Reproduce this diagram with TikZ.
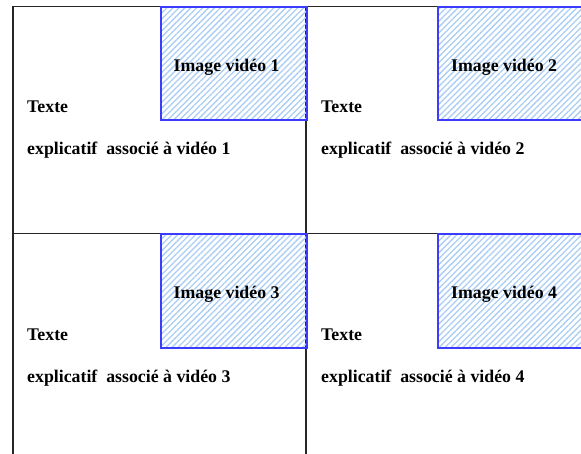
\documentclass[tikz,border=0pt]{standalone}
\usepackage{fontspec}
\setmainfont{Liberation Serif}
\usetikzlibrary{patterns.meta}
\definecolor{hatchblue}{RGB}{170,205,245}
\definecolor{boxblue}{RGB}{60,60,255}
\tikzset{
  frame/.style={line width=1.2pt, draw=black!85},
  vidbox/.style={draw=boxblue, line width=2pt, anchor=north west, inner sep=0pt,
    pattern={Lines[angle=45,distance=4.2pt,line width=1.3pt]}, pattern color=hatchblue},
  lbl/.style={anchor=base west, inner sep=0pt, font=\fontsize{17.8}{20}\selectfont\bfseries},
}
\begin{document}
\begin{tikzpicture}[x=1pt,y=-1pt]
\useasboundingbox (0,0) rectangle (581,454);
% frame lines
\coordinate (tl) at (13,6.5);
\coordinate (tr) at (590,6.5);
\coordinate (ml) at (13,233.5);
\coordinate (mr) at (590,233.5);
\coordinate (bl) at (13,460);
\coordinate (mt) at (306,6.5);
\coordinate (mb) at (306,460);
\draw[frame] (bl) -- (tl) -- (tr);
\draw[frame] (ml) -- (mr);
\draw[frame] (mt) -- (mb);
% video boxes
\node[vidbox, minimum width=146pt, minimum height=113pt] (v1) at (160,6.5) {};
\node[vidbox, minimum width=150pt, minimum height=113pt] (v2) at (437,6.5) {};
\node[vidbox, minimum width=146pt, minimum height=113pt] (v3) at (160,233.5) {};
\node[vidbox, minimum width=150pt, minimum height=113pt] (v4) at (437,233.5) {};
% labels
\node[lbl] (i1) at (173.5,72) {Image vidéo 1};
\node[lbl] (i2) at (451,72) {Image vidéo 2};
\node[lbl] (i3) at (173.5,299) {Image vidéo 3};
\node[lbl] (i4) at (451,299) {Image vidéo 4};
\node[lbl] (t1) at (27,113) {Texte};
\node[lbl] (t2) at (321,113) {Texte};
\node[lbl] (t3) at (27,340.5) {Texte};
\node[lbl] (t4) at (321,340.5) {Texte};
\node[lbl] (e1) at (27,155) {explicatif\ \ associé à vidéo 1};
\node[lbl] (e2) at (321,155) {explicatif\ \ associé à vidéo 2};
\node[lbl] (e3) at (27,382.5) {explicatif\ \ associé à vidéo 3};
\node[lbl] (e4) at (321,382.5) {explicatif\ \ associé à vidéo 4};
\end{tikzpicture}
\end{document}
